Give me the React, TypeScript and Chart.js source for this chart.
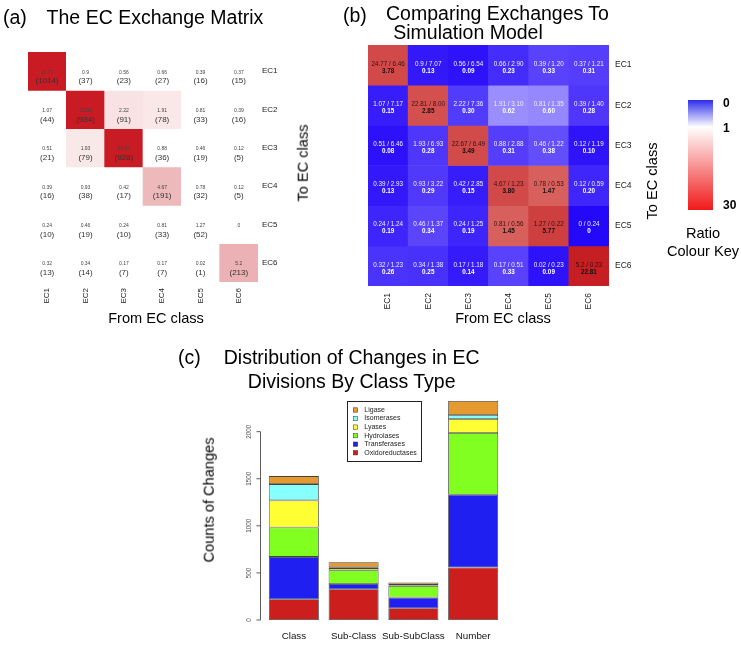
import React, { useEffect, useRef } from 'react';
import { Chart, registerables } from 'chart.js';

Chart.register(...registerables);

const FONT = '"Liberation Sans", Arial, Helvetica, sans-serif';

// ---------- data ----------
const ecClasses = ['EC1', 'EC2', 'EC3', 'EC4', 'EC5', 'EC6'];

// rows = To EC class, columns = From EC class
const exchangeRatio = [
  [24.77, 0.9, 0.56, 0.66, 0.39, 0.37],
  [1.07, 22.81, 2.22, 1.91, 0.81, 0.39],
  [0.51, 1.93, 22.67, 0.88, 0.46, 0.12],
  [0.39, 0.93, 0.42, 4.67, 0.78, 0.12],
  [0.24, 0.46, 0.24, 0.81, 1.27, 0],
  [0.32, 0.34, 0.17, 0.17, 0.02, 5.2],
];
const exchangeCount: (number | null)[][] = [
  [1014, 37, 23, 27, 16, 15],
  [44, 934, 91, 78, 33, 16],
  [21, 79, 928, 36, 19, 5],
  [16, 38, 17, 191, 32, 5],
  [10, 19, 10, 33, 52, null],
  [13, 14, 7, 7, 1, 213],
];
const simulatedRatio = [
  [6.46, 7.07, 6.54, 2.9, 1.2, 1.21],
  [7.17, 8.0, 7.36, 3.1, 1.35, 1.4],
  [6.46, 6.93, 6.49, 2.88, 1.22, 1.19],
  [2.93, 3.22, 2.85, 1.23, 0.53, 0.59],
  [1.24, 1.37, 1.25, 0.56, 0.22, 0.24],
  [1.23, 1.38, 1.18, 0.51, 0.23, 0.23],
];
const observedOverSimulated = [
  [3.78, 0.13, 0.09, 0.23, 0.33, 0.31],
  [0.15, 2.85, 0.3, 0.62, 0.6, 0.28],
  [0.08, 0.28, 3.49, 0.31, 0.38, 0.1],
  [0.13, 0.29, 0.15, 3.8, 1.47, 0.2],
  [0.19, 0.34, 0.19, 1.45, 5.77, 0],
  [0.26, 0.25, 0.14, 0.33, 0.09, 22.81],
];
const colourKeyLabels = ['0', '1', '30'];

const divisionTypes = ['Class', 'Sub-Class', 'Sub-SubClass', 'Number'];
const oxidoreductases = [220, 327, 125, 557];
const transferases = [450, 56, 113, 773];
const hydrolases = [312, 146, 124, 656];
const lyases = [288, 22, 5, 149];
const isomerases = [173, 8, 6, 42];
const ligase = [85, 54, 24, 149];
const countTicks = [0, 500, 1000, 1500, 2000];
const enzymeNames = ['Oxidoreductases', 'Transferases', 'Hydrolases', 'Lyases', 'Isomerases', 'Ligase'];
const enzymeColours = ['#CD1E1E', '#1F1FF2', '#80FF20', '#FFFF33', '#88FFFF', '#E6992E'];

// ---------- colour helpers ----------
function mix(a: number[], b: number[], t: number) {
  const c = a.map((v, i) => Math.round(v + (b[i] - v) * t));
  return `rgb(${c[0]},${c[1]},${c[2]})`;
}
function colourA(v: number) {
  const t = v < 1.5 ? 0 : Math.pow(Math.min(1, (v - 1) / 16), 0.8);
  return mix([255, 255, 255], [201, 27, 35], t);
}
function colourB(r: number) {
  if (r < 1) return mix([36, 8, 250], [255, 255, 255], Math.pow(r, 1.3));
  const s = Math.min(1, Math.log(r) / Math.log(25));
  return mix([218, 105, 100], [196, 28, 33], s);
}

function matrixDatasets(colour: (v: number) => string, values: number[][]) {
  return ecClasses.map((name, r) => ({
    label: name,
    data: ecClasses.map(() => [r, r + 1]),
    backgroundColor: values[r].map(colour),
    borderWidth: 0,
    barPercentage: 1,
    categoryPercentage: 1,
  }));
}

function matrixScales(tickSize: number, xPad: number, yPad: number, yWidth: number) {
  return {
    x: {
      type: 'category',
      stacked: true,
      grid: { display: false, drawTicks: false },
      border: { display: false },
      ticks: { font: { family: FONT, size: tickSize }, color: '#222', minRotation: 90, maxRotation: 90, padding: xPad, autoSkip: false },
      afterFit: (s: any) => { s.height = 40; },
    },
    y: {
      type: 'linear',
      position: 'right',
      min: 0,
      max: 6,
      reverse: true,
      grid: { display: false, drawTicks: false },
      border: { display: false },
      afterBuildTicks: (s: any) => { s.ticks = ecClasses.map((_, i) => ({ value: i + 0.5 })); },
      ticks: {
        font: { family: FONT, size: tickSize },
        color: '#222',
        padding: yPad,
        autoSkip: false,
        callback: (_v: any, i: number) => ecClasses[i],
      },
      afterFit: (s: any) => { s.width = yWidth; },
    },
  };
}

const textA = {
  id: 'textA',
  afterDatasetsDraw(chart: any) {
    const { ctx, scales: { x, y } } = chart;
    ctx.save();
    ctx.textAlign = 'center';
    ctx.textBaseline = 'middle';
    exchangeRatio.forEach((row, r) => row.forEach((v, c) => {
      const cx = x.getPixelForValue(c);
      const cy = y.getPixelForValue(r + 0.5);
      ctx.fillStyle = '#444';
      ctx.font = `5px ${FONT}`;
      ctx.fillText(String(v), cx, cy + 1);
      const n = exchangeCount[r][c];
      if (n !== null) {
        ctx.fillStyle = '#333';
        ctx.font = `8px ${FONT}`;
        ctx.fillText(`(${n})`, cx, cy + 10);
      }
    }));
    ctx.restore();
  },
};

const textB = {
  id: 'textB',
  afterDatasetsDraw(chart: any) {
    const { ctx, scales: { x, y } } = chart;
    ctx.save();
    ctx.textAlign = 'center';
    ctx.textBaseline = 'middle';
    observedOverSimulated.forEach((row, r) => row.forEach((ratio, c) => {
      const cx = x.getPixelForValue(c);
      const cy = y.getPixelForValue(r + 0.5);
      const light = ratio < 1;
      ctx.fillStyle = light ? '#eeeeff' : '#3a1010';
      ctx.font = `6.3px ${FONT}`;
      ctx.fillText(`${exchangeRatio[r][c]} / ${simulatedRatio[r][c].toFixed(2)}`, cx, cy - 1);
      ctx.fillStyle = light ? '#ffffff' : '#111';
      ctx.font = `bold 6.3px ${FONT}`;
      ctx.fillText(ratio === 0 ? '0' : ratio.toFixed(2), cx, cy + 6);
    }));
    // colour key bar
    const kx = 358, ky = 100, kw = 25, kh = 110;
    const g = ctx.createLinearGradient(0, ky, 0, ky + kh);
    g.addColorStop(0, 'rgb(45,45,235)');
    g.addColorStop(0.245, 'rgb(255,255,255)');
    g.addColorStop(1, 'rgb(240,25,25)');
    ctx.fillStyle = g;
    ctx.fillRect(kx, ky, kw, kh);
    ctx.restore();
  },
};

const axisC = {
  id: 'axisC',
  afterDraw(chart: any) {
    const { ctx, chartArea } = chart;
    const y = chart.scales.y;
    const ticks = y.ticks.map((t: any) => t.value);
    const ax = chartArea.left - 3.5;
    ctx.save();
    ctx.strokeStyle = '#333';
    ctx.lineWidth = 0.8;
    ctx.beginPath();
    ctx.moveTo(ax, y.getPixelForValue(ticks[0]));
    ctx.lineTo(ax, y.getPixelForValue(ticks[ticks.length - 1]));
    ticks.forEach((v: number) => {
      const py = y.getPixelForValue(v);
      ctx.moveTo(ax - 4, py);
      ctx.lineTo(ax, py);
    });
    ctx.stroke();
    ctx.fillStyle = '#555';
    ctx.font = `6.3px ${FONT}`;
    ctx.textAlign = 'center';
    ctx.textBaseline = 'middle';
    ticks.forEach((v: number) => {
      ctx.save();
      ctx.translate(ax - 11, y.getPixelForValue(v));
      ctx.rotate(-Math.PI / 2);
      ctx.fillText(String(v), 0, 0);
      ctx.restore();
    });
    // legend box
    const L = 177, T = 71, W = 74, H = 60;
    ctx.fillStyle = '#fff';
    ctx.fillRect(L, T, W, H);
    ctx.strokeStyle = '#222';
    ctx.lineWidth = 1;
    ctx.strokeRect(L + 0.5, T + 0.5, W, H);
    const ds = chart.data.datasets.slice().reverse();
    ctx.font = `7px ${FONT}`;
    ctx.textAlign = 'left';
    ds.forEach((d: any, i: number) => {
      const cy = T + 9 + i * 8.55;
      ctx.fillStyle = d.backgroundColor;
      ctx.fillRect(L + 6.3, cy - 2.2, 4.4, 4.4);
      ctx.strokeStyle = '#333';
      ctx.lineWidth = 0.5;
      ctx.strokeRect(L + 6.3, cy - 2.2, 4.4, 4.4);
      ctx.fillStyle = '#222';
      ctx.fillText(d.label, L + 17.3, cy);
    });
    ctx.restore();
  },
};

// ---------- text helper ----------
type LabelProps = { text: string; x: number; y: number; size: number; anchor?: 'start' | 'center'; bold?: boolean; rotate?: boolean };
function Label({ text, x, y, size, anchor = 'start', bold = false, rotate = false }: LabelProps) {
  const base: React.CSSProperties = {
    position: 'absolute',
    whiteSpace: 'nowrap',
    fontFamily: FONT,
    fontSize: size,
    lineHeight: `${size}px`,
    fontWeight: bold ? 'bold' : 'normal',
    color: '#000',
  };
  if (rotate) {
    return <div style={{ ...base, left: x, top: y, transform: 'translate(-50%,-50%) rotate(-90deg)' }}>{text}</div>;
  }
  return (
    <div style={{ ...base, left: x, top: y - 0.8465 * size, transform: anchor === 'center' ? 'translateX(-50%)' : undefined }}>
      {text}
    </div>
  );
}

export default function App() {
  const refA = useRef<HTMLCanvasElement>(null);
  const refB = useRef<HTMLCanvasElement>(null);
  const refC = useRef<HTMLCanvasElement>(null);

  useEffect(() => {
    const common = {
      responsive: false,
      animation: false as const,
      events: [] as any[],
      plugins: { legend: { display: false }, tooltip: { enabled: false } },
    };
    const a = new Chart(refA.current!, {
      type: 'bar',
      data: { labels: ecClasses, datasets: matrixDatasets(colourA, exchangeRatio) as any },
      options: { ...common, layout: { padding: { left: 28, top: 52, right: 32, bottom: 8 } }, scales: matrixScales(8, 6, 4, 40) as any },
      plugins: [textA],
    });
    const b = new Chart(refB.current!, {
      type: 'bar',
      data: { labels: ecClasses, datasets: matrixDatasets(colourB, observedOverSimulated) as any },
      options: { ...common, layout: { padding: { left: 38, top: 45, right: 102, bottom: 4 } }, scales: matrixScales(8.5, 7, 6, 30) as any },
      plugins: [textB],
    });
    const series = [oxidoreductases, transferases, hydrolases, lyases, isomerases, ligase];
    const c = new Chart(refC.current!, {
      type: 'bar',
      data: {
        labels: divisionTypes,
        datasets: series.map((d, i) => ({
          label: enzymeNames[i],
          data: d,
          backgroundColor: enzymeColours[i],
          borderColor: 'rgba(45,45,45,0.9)',
          borderWidth: 0.8,
          borderSkipped: false,
          barPercentage: 0.837,
          categoryPercentage: 1,
        })),
      },
      options: {
        ...common,
        layout: { padding: { left: 94, top: 64, right: 67, bottom: 5 } },
        scales: {
          x: {
            stacked: true,
            grid: { display: false, drawTicks: false },
            border: { display: false },
            ticks: { font: { family: FONT, size: 9.8 }, color: '#111', padding: 10, autoSkip: false, maxRotation: 0 },
            afterFit: (s: any) => { s.height = 22; },
          },
          y: {
            stacked: true,
            display: false,
            min: 0,
            max: 2400,
            afterBuildTicks: (s: any) => { s.ticks = countTicks.map((v) => ({ value: v })); },
          },
        },
      } as any,
      plugins: [axisC],
    });
    return () => { a.destroy(); b.destroy(); c.destroy(); };
  }, []);

  return (
    <div style={{ position: 'absolute', left: 0, top: 0, width: 741, height: 647, background: '#fff', overflow: 'hidden' }}>
      <canvas ref={refA} width={330} height={330} style={{ position: 'absolute', left: 0, top: 0 }} />
      <canvas ref={refB} width={411} height={330} style={{ position: 'absolute', left: 330, top: 0 }} />
      <canvas ref={refC} width={400} height={317} style={{ position: 'absolute', left: 170, top: 330 }} />

      <Label text="(a)" x={3} y={25} size={19.5} />
      <Label text="The EC Exchange Matrix" x={155} y={25} size={19.5} anchor="center" />
      <Label text="From EC class" x={156} y={323} size={14.6} anchor="center" />
      <Label text="To EC class" x={303} y={163} size={14.6} rotate />

      <Label text="(b)" x={343} y={23} size={19.5} />
      <Label text="Comparing Exchanges To" x={497.5} y={21} size={19.5} anchor="center" />
      <Label text="Simulation Model" x={468} y={40} size={19.5} anchor="center" />
      <Label text="From EC class" x={503} y={323} size={14.6} anchor="center" />
      <Label text="To EC class" x={652} y={181} size={14.6} rotate />
      <Label text={colourKeyLabels[0]} x={723} y={107.3} size={12} bold />
      <Label text={colourKeyLabels[1]} x={723} y={132.3} size={12} bold />
      <Label text={colourKeyLabels[2]} x={723} y={209.3} size={12} bold />
      <Label text="Ratio" x={703} y={238.5} size={14.6} anchor="center" />
      <Label text="Colour Key" x={703} y={256} size={14.6} anchor="center" />

      <Label text="(c)" x={178} y={365} size={19.5} />
      <Label text="Distribution of Changes in EC" x={351.7} y={365} size={19.5} anchor="center" />
      <Label text="Divisions By Class Type" x={351.7} y={389} size={19.5} anchor="center" />
      <Label text="Counts of Changes" x={209} y={500} size={14.6} rotate />
    </div>
  );
}
